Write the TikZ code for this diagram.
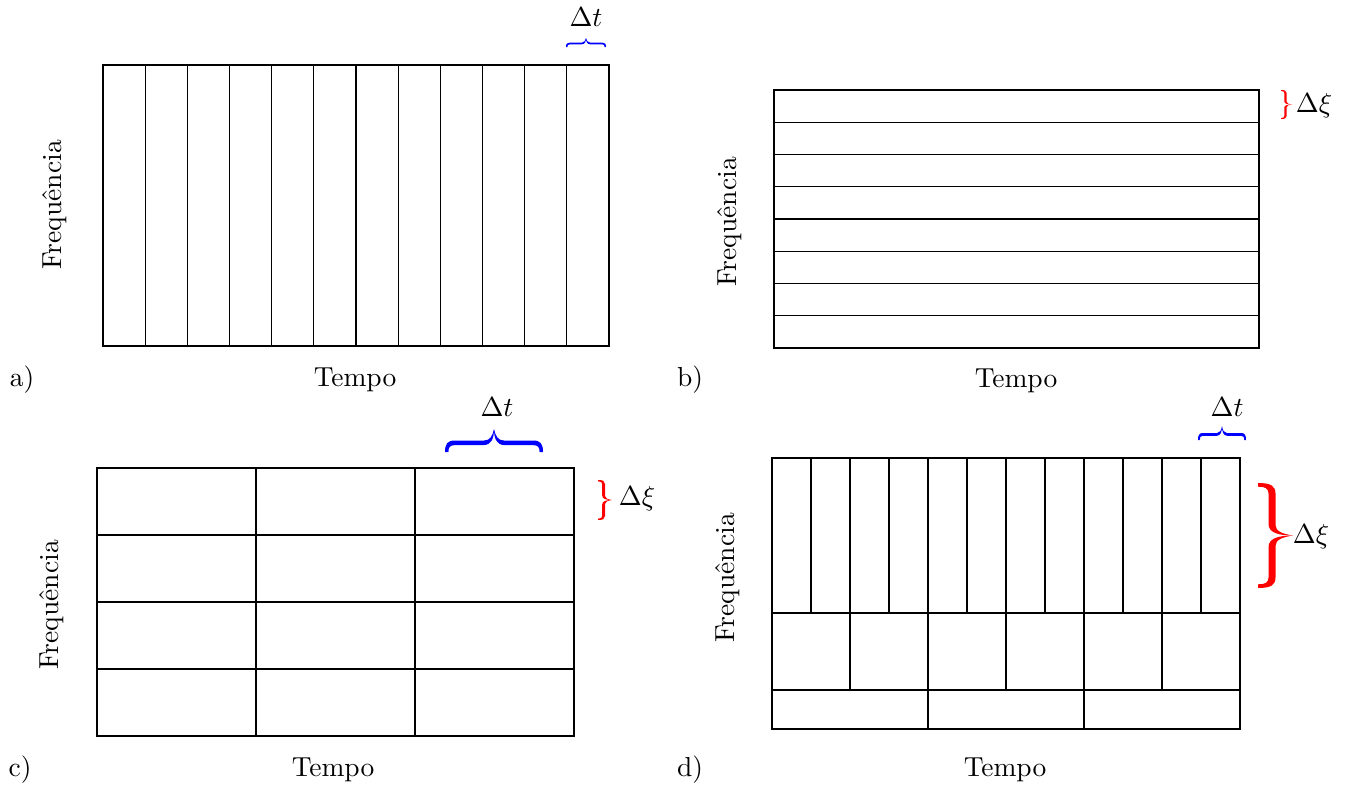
\documentclass[tikz,border=0pt]{standalone}
\def\hpath{(-1,0) .. controls (-1,0.35) and (-0.95,0.5) .. (-0.8,0.5) -- (-0.2,0.5) .. controls (-0.08,0.5) and (-0.03,0.7) .. (0,1) .. controls (0,0.6) and (-0.05,0.3) .. (-0.22,0.3) -- (-0.8,0.3) .. controls (-0.9,0.3) and (-0.93,0.2) .. (-0.93,0) -- cycle}
\def\vpath{(0,-1) .. controls (0.35,-1) and (0.5,-0.95) .. (0.5,-0.8) -- (0.5,-0.2) .. controls (0.5,-0.08) and (0.7,-0.03) .. (1,0) .. controls (0.6,0) and (0.3,-0.05) .. (0.3,-0.22) -- (0.3,-0.8) .. controls (0.3,-0.9) and (0.2,-0.93) .. (0,-0.93) -- cycle}
\begin{document}
\begin{tikzpicture}[x=0.36364pt,y=-0.36364pt,
  grid/.style={draw=black, line width=0.4pt},
  lbl/.style={inner sep=0pt},
  hbr/.pic={\fill \hpath; \fill[xscale=-1] \hpath;},
  vbr/.pic={\fill \vpath; \fill[yscale=-1] \vpath;}]
\useasboundingbox (0,0) rectangle (1345,786);
% ---------- a ----------
\draw[grid] (103,65) rectangle (609,346);
\foreach \i in {1,...,11} \draw[grid] ({103+\i*506/12},65) -- ({103+\i*506/12},346);
\pic[blue, xscale=20, yscale=-9] (bra) at (586,47) {hbr};
\node[lbl] (dta) at (586,17) {$\Delta t$};
\node[lbl,rotate=90] (fa) at (55,205) {Frequência};
\node[lbl] (ta) at (355,380) {Tempo};
\node[lbl] (la) at (22,380) {a)};
% ---------- b ----------
\draw[grid] (774,90) rectangle (1259,348);
\foreach \i in {1,...,7} \draw[grid] (774,{90+\i*258/8}) -- (1259,{90+\i*258/8});
\pic[red, xscale=11, yscale=14.5] (brb) at (1281,104.5) {vbr};
\node[lbl] (dxb) at (1314,106) {$\Delta\xi$};
\node[lbl,rotate=90] (fb) at (730,222) {Frequência};
\node[lbl] (tb) at (1016,381) {Tempo};
\node[lbl] (lb) at (690,380) {b)};
% ---------- c ----------
\draw[grid] (97,468) rectangle (574,736);
\foreach \i in {1,2} \draw[grid] ({97+\i*159},468) -- ({97+\i*159},736);
\foreach \i in {1,2,3} \draw[grid] (97,{468+\i*67}) -- (574,{468+\i*67});
\pic[blue, xscale=49, yscale=-23] (brc) at (494,452) {hbr};
\node[lbl] (dtc) at (497,407) {$\Delta t$};
\pic[red, xscale=14, yscale=20] (brcx) at (598,500) {vbr};
\node[lbl] (dxc) at (637,499) {$\Delta\xi$};
\node[lbl,rotate=90] (fc) at (52,605) {Frequência};
\node[lbl] (tc) at (333,770) {Tempo};
\node[lbl] (lc) at (20,770) {c)};
% ---------- d ----------
\draw[grid] (772,458) rectangle (1240,729);
\draw[grid] (772,613) -- (1240,613);
\draw[grid] (772,690) -- (1240,690);
\foreach \i in {1,...,11} \draw[grid] ({772+\i*39},458) -- ({772+\i*39},613);
\foreach \i in {1,...,5} \draw[grid] ({772+\i*78},613) -- ({772+\i*78},690);
\foreach \i in {1,2} \draw[grid] ({772+\i*156},690) -- ({772+\i*156},729);
\pic[blue, xscale=24, yscale=-14] (brd) at (1222,440) {hbr};
\node[lbl] (dtd) at (1227,407) {$\Delta t$};
\pic[red, xscale=35, yscale=52.5] (brdx) at (1258,535.5) {vbr};
\node[lbl] (dxd) at (1311,537) {$\Delta\xi$};
\node[lbl,rotate=90] (fd) at (728,578) {Frequência};
\node[lbl] (td) at (1005,770) {Tempo};
\node[lbl] (ld) at (690,770) {d)};
\end{tikzpicture}
\end{document}
